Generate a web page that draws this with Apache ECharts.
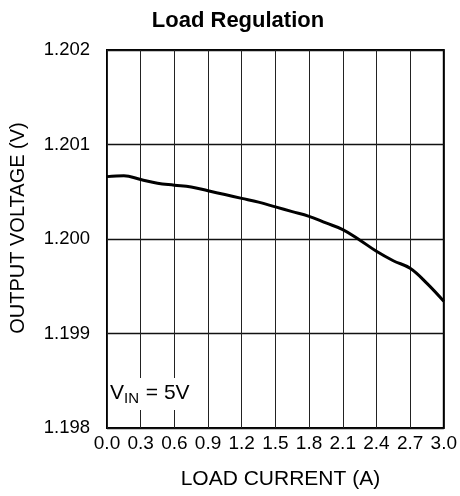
<!DOCTYPE html>
<html>
<head>
<meta charset="utf-8">
<script src="https://cdn.jsdelivr.net/npm/echarts@6/dist/echarts.min.js"></script>
<style>html,body{margin:0;padding:0;background:#fff}#c{width:460px;height:496px}</style>
</head>
<body>
<div id="c"></div>
<script>
var current = [0, 0.15, 0.3, 0.45, 0.6, 0.75, 0.9, 1.05, 1.2, 1.35, 1.5, 1.65, 1.8, 1.95, 2.1, 2.25, 2.4, 2.55, 2.7, 2.85, 3.0];
var voltage = [1.20066, 1.20067, 1.20063, 1.20059, 1.20057, 1.20055, 1.20051, 1.20047, 1.20043, 1.20039, 1.20034, 1.20029, 1.20024, 1.20017, 1.20010, 1.19999, 1.19987, 1.19977, 1.19969, 1.19953, 1.19934];
var xTicks = ['0.0','0.3','0.6','0.9','1.2','1.5','1.8','2.1','2.4','2.7','3.0'];
var yTicks = ['1.198','1.199','1.200','1.201','1.202'];

var font = '"Liberation Sans", Arial, Helvetica, sans-serif';
var chart = echarts.init(document.getElementById('c'), null, {renderer: 'canvas'});
chart.setOption({
  animation: false,
  title: {
    text: 'Load Regulation', left: 233, top: 5, textAlign: 'center',
    textStyle: {fontFamily: font, fontSize: 22, fontWeight: 'bold', color: '#000'}
  },
  grid: {left: 107, right: 16, top: 50, bottom: 68, show: true, borderColor: '#000', borderWidth: 2, backgroundColor: 'transparent'},
  xAxis: {
    type: 'value', min: 0, max: 3, interval: 0.3,
    name: 'LOAD CURRENT (A)', nameLocation: 'middle', nameGap: 41,
    nameTextStyle: {fontFamily: font, fontSize: 21, color: '#000', padding: [0, 0, 0, 10]},
    axisLine: {show: false}, axisTick: {show: false},
    axisLabel: {fontFamily: font, fontSize: 19, color: '#000', margin: 6,
      formatter: function (v) { return xTicks[Math.round(v / 0.3)]; }},
    splitLine: {show: true, lineStyle: {color: '#222', width: 1}}
  },
  yAxis: {
    type: 'value', min: 1.198, max: 1.202, interval: 0.001,
    name: 'OUTPUT VOLTAGE (V)', nameLocation: 'middle', nameGap: 79, nameRotate: 90,
    nameTextStyle: {fontFamily: font, fontSize: 20, color: '#000', padding: [0, 0, 0, 22]},
    axisLine: {show: false}, axisTick: {show: false},
    axisLabel: {fontFamily: font, fontSize: 18.5, color: '#000', margin: 17,
      formatter: function (v) { return yTicks[Math.round((v - 1.198) / 0.001)]; }},
    splitLine: {show: true, lineStyle: {color: '#111', width: 1.3}}
  },
  graphic: [{
    type: 'text', left: 108, top: 378, z: 100,
    style: {
      rich: {
        a: {fontFamily: font, fontSize: 21, fill: '#000'},
        b: {fontFamily: font, fontSize: 15, fill: '#000', padding: [11, 1, 0, 0]}
      },
      text: '{a|V}{b|IN}{a| = 5V}',
      backgroundColor: '#fff', padding: [2, 2, 4, 2]
    }
  }],
  series: [{
    type: 'line', smooth: 0.4, symbol: 'none',
    lineStyle: {color: '#000', width: 3},
    data: current.map(function (c, i) { return [c, voltage[i]]; })
  }]
});
</script>
</body>
</html>
